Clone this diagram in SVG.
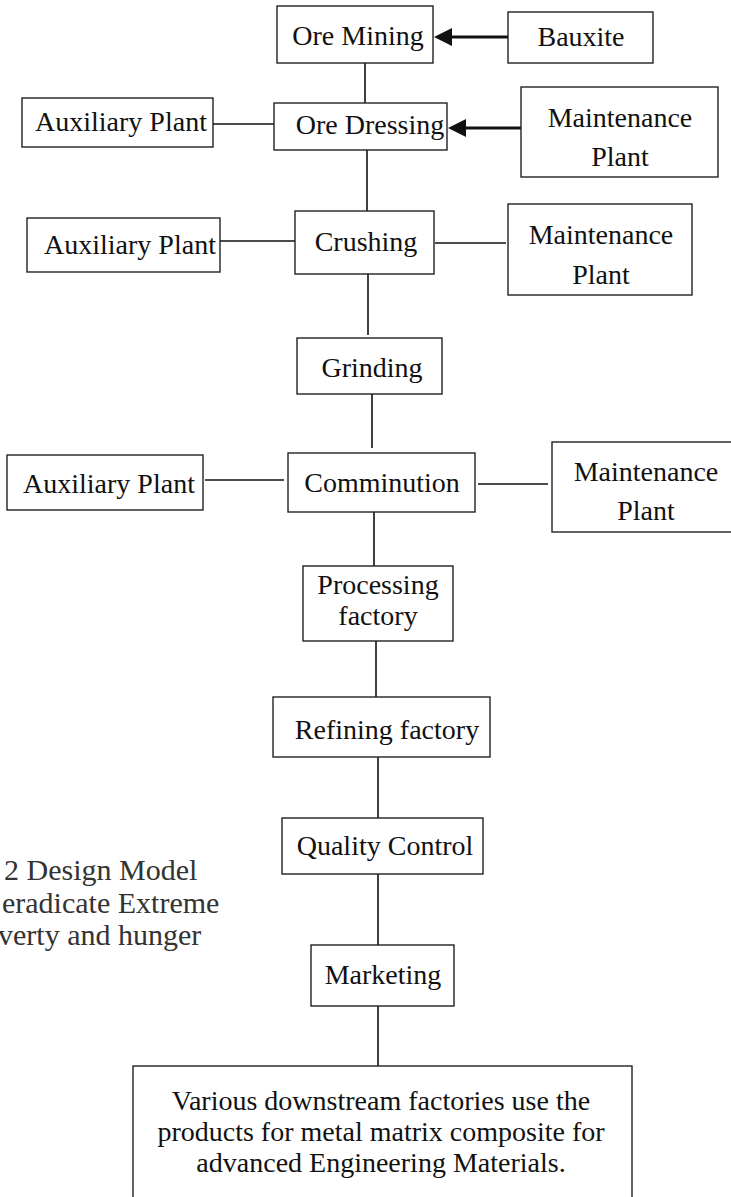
<svg xmlns="http://www.w3.org/2000/svg" width="731" height="1197" viewBox="0 0 731 1197">
<style>
  .box { fill: #ffffff; stroke: #222222; stroke-width: 1.4; }
  .lbl { font-family: "Liberation Serif", "Times New Roman", serif; font-size: 28px; fill: #111111; text-anchor: middle; }
  .side { font-family: "Liberation Serif", "Times New Roman", serif; font-size: 30px; fill: #333333; }
  .con { stroke: #111111; stroke-width: 1.6; fill: none; }
  .thick { stroke: #111111; stroke-width: 3.2; fill: none; }
  .head { fill: #111111; }
</style>
<rect width="731" height="1197" fill="#ffffff"/>

<g id="connectors">
  <line class="thick" x1="508" y1="37" x2="450" y2="37"/>
  <polygon class="head" points="434,37 452,28 452,46"/>
  <line class="thick" x1="521" y1="128" x2="463" y2="128"/>
  <polygon class="head" points="448,128 466,119 466,137"/>
  <line class="con" x1="365" y1="63" x2="365" y2="103"/>
  <line class="con" x1="213" y1="124" x2="274" y2="124"/>
  <line class="con" x1="367" y1="150" x2="367" y2="211"/>
  <line class="con" x1="220" y1="241" x2="295" y2="241"/>
  <line class="con" x1="435" y1="243" x2="506" y2="243"/>
  <line class="con" x1="368" y1="274" x2="368" y2="335"/>
  <line class="con" x1="372" y1="394" x2="372" y2="448"/>
  <line class="con" x1="205" y1="480" x2="284" y2="480"/>
  <line class="con" x1="478" y1="484" x2="548" y2="484"/>
  <line class="con" x1="374" y1="512" x2="374" y2="566"/>
  <line class="con" x1="376" y1="641" x2="376" y2="697"/>
  <line class="con" x1="378" y1="757" x2="378" y2="818"/>
  <line class="con" x1="378" y1="874" x2="378" y2="945"/>
  <line class="con" x1="378" y1="1006" x2="378" y2="1066"/>
</g>

<g id="ore-mining">
  <rect class="box" x="277" y="6" width="156" height="57"/>
  <text class="lbl" x="358" y="45">Ore Mining</text>
</g>
<g id="bauxite">
  <rect class="box" x="508" y="12" width="145" height="51"/>
  <text class="lbl" x="581" y="46">Bauxite</text>
</g>
<g id="auxiliary-1">
  <rect class="box" x="22" y="98" width="191" height="49"/>
  <text class="lbl" x="121" y="131">Auxiliary Plant</text>
</g>
<g id="ore-dressing">
  <rect class="box" x="274" y="103" width="173" height="47"/>
  <text class="lbl" x="370" y="134">Ore Dressing</text>
</g>
<g id="maintenance-1">
  <rect class="box" x="521" y="87" width="197" height="90"/>
  <text class="lbl" x="620" y="127">Maintenance</text>
  <text class="lbl" x="620" y="166">Plant</text>
</g>
<g id="auxiliary-2">
  <rect class="box" x="27" y="218" width="193" height="54"/>
  <text class="lbl" x="130" y="254">Auxiliary Plant</text>
</g>
<g id="crushing">
  <rect class="box" x="295" y="211" width="139" height="63"/>
  <text class="lbl" x="366" y="251">Crushing</text>
</g>
<g id="maintenance-2">
  <rect class="box" x="508" y="204" width="184" height="91"/>
  <text class="lbl" x="601" y="244">Maintenance</text>
  <text class="lbl" x="601" y="284">Plant</text>
</g>
<g id="grinding">
  <rect class="box" x="297" y="338" width="145" height="56"/>
  <text class="lbl" x="372" y="377">Grinding</text>
</g>
<g id="auxiliary-3">
  <rect class="box" x="7" y="455" width="196" height="55"/>
  <text class="lbl" x="109" y="493">Auxiliary Plant</text>
</g>
<g id="comminution">
  <rect class="box" x="288" y="453" width="187" height="59"/>
  <text class="lbl" x="382" y="492">Comminution</text>
</g>
<g id="maintenance-3">
  <rect class="box" x="552" y="442" width="185" height="90"/>
  <text class="lbl" x="646" y="481">Maintenance</text>
  <text class="lbl" x="646" y="520">Plant</text>
</g>
<g id="processing-factory">
  <rect class="box" x="303" y="566" width="150" height="75"/>
  <text class="lbl" x="378" y="594">Processing</text>
  <text class="lbl" x="378" y="625">factory</text>
</g>
<g id="refining-factory">
  <rect class="box" x="273" y="697" width="217" height="60"/>
  <text class="lbl" x="387" y="739">Refining factory</text>
</g>
<g id="quality-control">
  <rect class="box" x="282" y="818" width="201" height="56"/>
  <text class="lbl" x="385" y="855">Quality Control</text>
</g>
<g id="marketing">
  <rect class="box" x="311" y="945" width="143" height="61"/>
  <text class="lbl" x="383" y="984">Marketing</text>
</g>
<g id="downstream">
  <rect class="box" x="133" y="1066" width="499" height="150"/>
  <text class="lbl" x="381" y="1110">Various downstream factories use the</text>
  <text class="lbl" x="381" y="1141">products for metal matrix composite for</text>
  <text class="lbl" x="381" y="1172">advanced Engineering Materials.</text>
</g>

<g id="side-caption">
  <text class="side" x="4" y="880">2 Design Model</text>
  <text class="side" x="2" y="913">eradicate Extreme</text>
  <text class="side" x="-2" y="945">verty and hunger</text>
</g>
</svg>
